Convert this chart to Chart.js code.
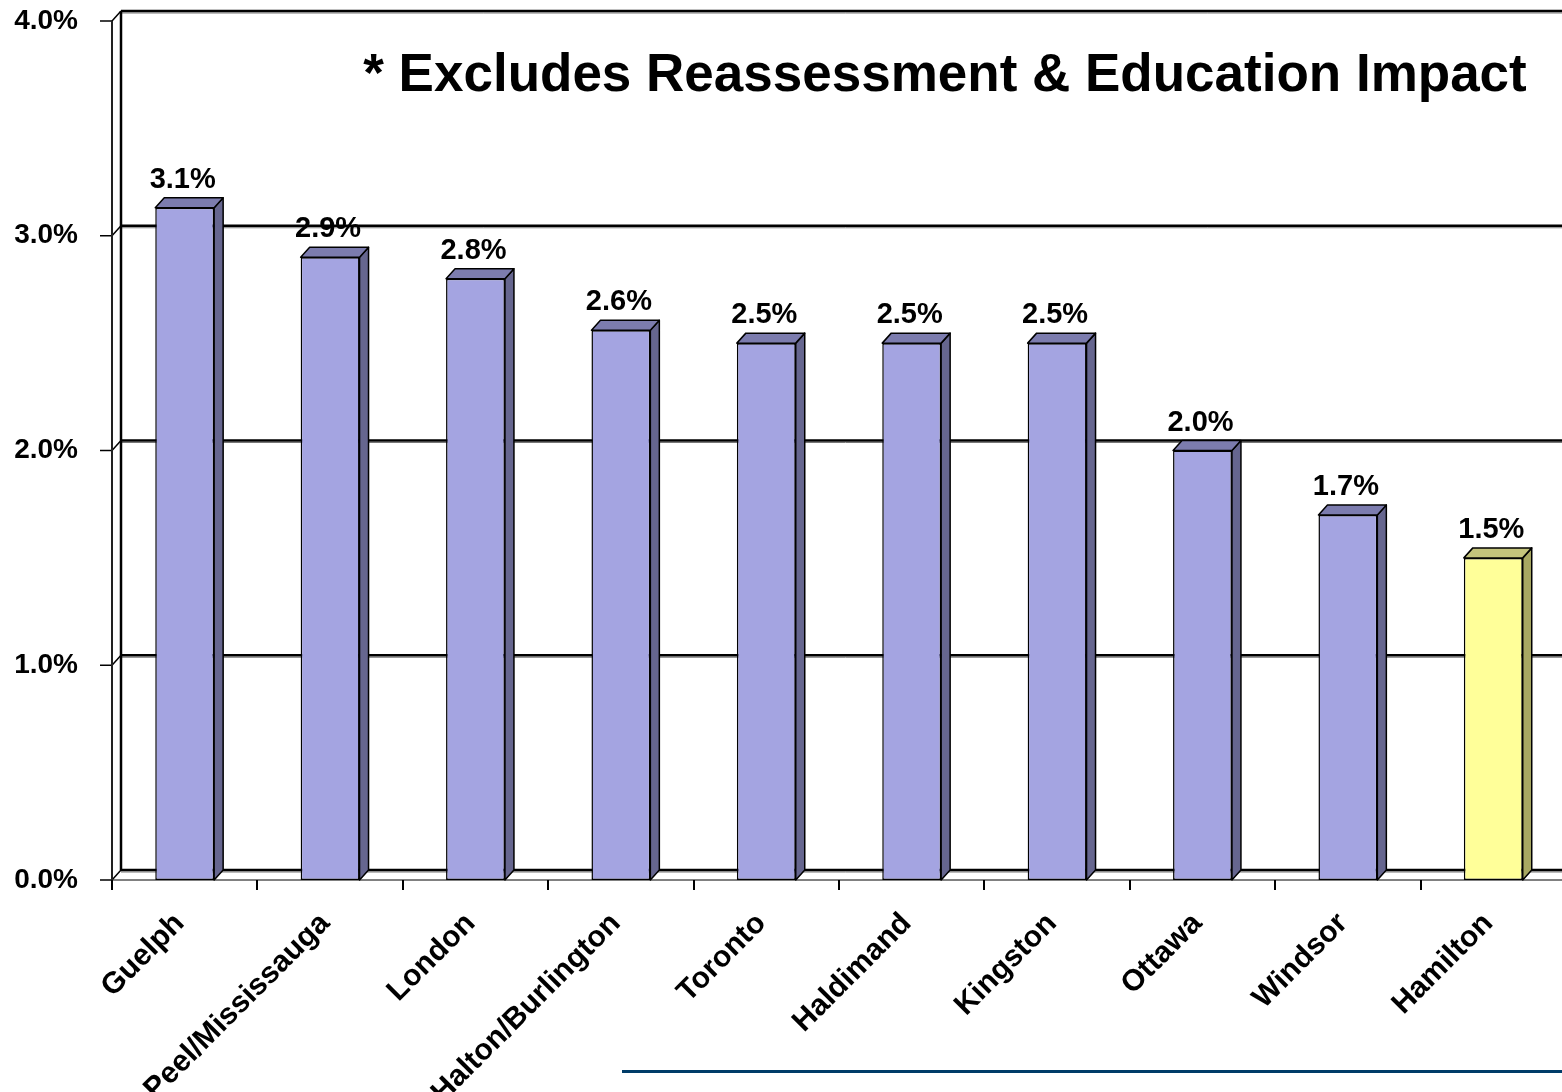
<!DOCTYPE html>
<html>
<head>
<meta charset="utf-8">
<title>Tax increase by municipality</title>
<script src="https://cdn.jsdelivr.net/npm/chart.js@4.4.0/dist/chart.umd.min.js"></script>
<style>
  html, body { margin: 0; padding: 0; background: #fff; overflow: hidden; }
  #wrap { position: relative; width: 1562px; height: 1092px; overflow: hidden; }
  #rule { position: absolute; left: 622px; top: 1070px; width: 940px; height: 3px; background: #003c68; }
</style>
</head>
<body>
<div id="wrap">
  <canvas id="taxChart" width="1570" height="1092"></canvas>
  <div id="rule"></div>
</div>
<script>
const cities = ['Guelph', 'Peel/Mississauga', 'London', 'Halton/Burlington', 'Toronto',
                'Haldimand', 'Kingston', 'Ottawa', 'Windsor', 'Hamilton'];
const increases = [3.13, 2.9, 2.8, 2.56, 2.5, 2.5, 2.5, 2.0, 1.7, 1.5];
const yTicks = [0, 1, 2, 3, 4];
const note = '* Excludes Reassessment & Education Impact';
const highlight = 'Hamilton';

const FONT = "'Liberation Sans', Arial, sans-serif";
const DX = 9, DY = -10; // depth of the 3d box
const PLOT_TOP = 21, PLOT_BOTTOM = 880;

// front / top / side colours per bar
const frontColors = cities.map(c => c === highlight ? '#ffff99' : '#a4a4e1');
const topColors = cities.map(c => c === highlight ? '#c4c47c' : '#7c7cae');
const sideColors = cities.map(c => c === highlight ? '#a8a862' : '#66668f');

Chart.defaults.font.family = FONT;

function line(ctx, x1, y1, x2, y2) {
  ctx.beginPath();
  ctx.moveTo(x1, y1);
  ctx.lineTo(x2, y2);
  ctx.stroke();
}

function poly(ctx, pts, fill) {
  ctx.beginPath();
  ctx.moveTo(pts[0][0], pts[0][1]);
  pts.slice(1).forEach(p => ctx.lineTo(p[0], p[1]));
  ctx.closePath();
  ctx.fillStyle = fill;
  ctx.fill();
  ctx.stroke();
}

const box3d = {
  id: 'box3d',
  beforeDatasetsDraw(chart) {
    const { ctx, chartArea: a, scales: { x, y } } = chart;
    const W = chart.width;
    const top = y.getPixelForValue(yTicks[yTicks.length - 1]);
    const bottom = y.getPixelForValue(0);
    ctx.save();
    ctx.lineCap = 'butt';

    // floor front edge
    ctx.strokeStyle = '#808080';
    ctx.lineWidth = 2;
    line(ctx, a.left, bottom, W, bottom);

    // grid lines on the back wall + links to the front axis
    yTicks.forEach(v => {
      const py = y.getPixelForValue(v);
      ctx.strokeStyle = '#777';
      ctx.lineWidth = 1;
      line(ctx, a.left + DX, py + DY + 2, W, py + DY + 2);
      ctx.strokeStyle = '#000';
      ctx.lineWidth = 2.5;
      line(ctx, a.left + DX, py + DY, W, py + DY);
      ctx.lineWidth = 1.5;
      line(ctx, a.left, py, a.left + DX, py + DY);
      line(ctx, a.left - 12, py, a.left, py);
    });

    // back wall edge and front axis
    ctx.lineWidth = 2.5;
    line(ctx, a.left + DX, top + DY, a.left + DX, bottom + DY);
    ctx.strokeStyle = '#222';
    ctx.lineWidth = 2;
    line(ctx, a.left, top, a.left, bottom);

    // category ticks
    ctx.strokeStyle = '#000';
    const step = (x.right - x.left) / cities.length;
    for (let i = 0; i <= cities.length; i++) {
      const px = Math.round(x.left + i * step);
      line(ctx, px, bottom, px, bottom + 10);
    }
    ctx.restore();
  },
  afterDatasetsDraw(chart) {
    const { ctx } = chart;
    const meta = chart.getDatasetMeta(0);
    ctx.save();
    ctx.strokeStyle = '#000';
    ctx.lineWidth = 1.5;
    ctx.lineJoin = 'round';
    meta.data.forEach((bar, i) => {
      const { x: cx, y: top, base, width } = bar.getProps(['x', 'y', 'base', 'width'], true);
      const l = cx - width / 2, r = cx + width / 2;
      poly(ctx, [[r, top], [r + DX, top + DY], [r + DX, base + DY], [r, base]], sideColors[i]);
      poly(ctx, [[l, top], [l + DX, top + DY], [r + DX, top + DY], [r, top]], topColors[i]);
    });

    // value labels
    ctx.fillStyle = '#000';
    ctx.font = 'bold 29px ' + FONT;
    ctx.textAlign = 'center';
    ctx.textBaseline = 'middle';
    meta.data.forEach((bar, i) => {
      const { x: cx, y: top } = bar.getProps(['x', 'y'], true);
      ctx.fillText(increases[i].toFixed(1) + '%', cx - 2, top - 28);
    });

    // note inside the plot
    ctx.font = 'bold 53px ' + FONT;
    ctx.textBaseline = 'alphabetic';
    ctx.fillText(note, 945, 91);
    ctx.restore();
  }
};

new Chart(document.getElementById('taxChart'), {
  type: 'bar',
  data: {
    labels: cities,
    datasets: [{
      data: increases,
      backgroundColor: frontColors,
      borderColor: '#000',
      borderWidth: 1.5,
      borderSkipped: false,
      categoryPercentage: 1,
      barPercentage: 0.405
    }]
  },
  options: {
    responsive: false,
    devicePixelRatio: 1,
    animation: false,
    layout: { autoPadding: false, padding: { top: 0, right: 4, left: 0, bottom: 0 } },
    plugins: {
      legend: { display: false },
      tooltip: { enabled: false }
    },
    scales: {
      x: {
        offset: true,
        grid: { display: false, drawTicks: false },
        border: { display: false },
        afterFit: s => { s.height = 1092 - PLOT_BOTTOM; },
        ticks: {
          autoSkip: false,
          maxRotation: 45,
          minRotation: 45,
          padding: 26,
          labelOffset: -5,
          color: '#000',
          font: { size: 30, weight: 'bold' }
        }
      },
      y: {
        min: 0,
        max: 4,
        grid: { display: false, drawTicks: false },
        border: { display: false },
        afterFit: s => { s.width = 112; },
        afterBuildTicks: s => { s.ticks = yTicks.map(v => ({ value: v })); },
        ticks: {
          padding: 34,
          color: '#000',
          font: { size: 28, weight: 'bold' },
          callback: v => v.toFixed(1) + '%'
        }
      }
    }
  },
  plugins: [box3d, {
    id: 'plotTop',
    // pin the plot top so the 4.0% line sits where it does in the original
    afterLayout(chart) {
      const a = chart.chartArea;
      const y = chart.scales.y;
      a.top = PLOT_TOP;
      a.height = a.bottom - a.top;
      y.top = PLOT_TOP;
      y.height = y.bottom - y.top;
      y.configure();
    }
  }]
});
</script>
</body>
</html>
